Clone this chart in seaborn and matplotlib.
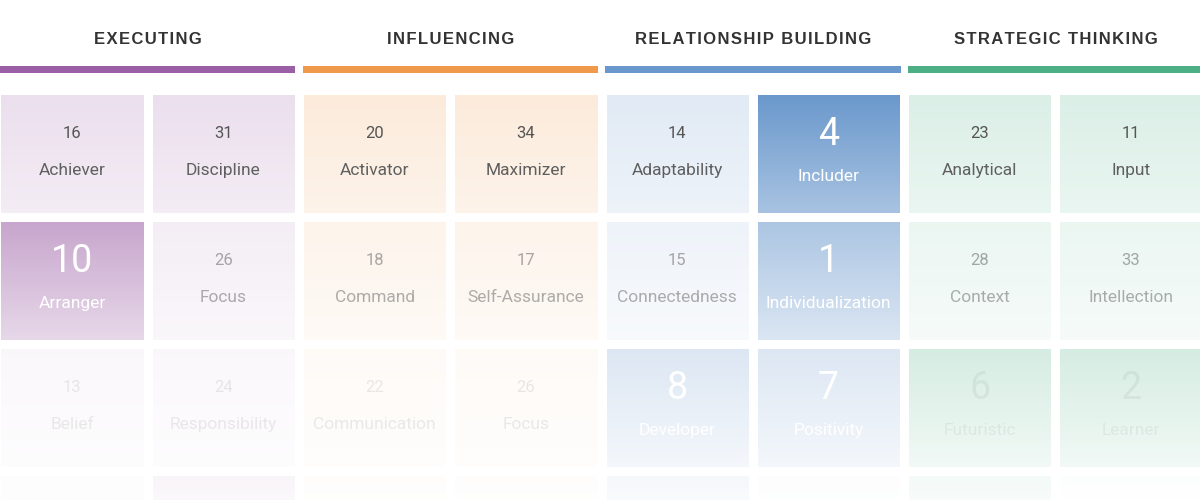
import numpy as np
import matplotlib
matplotlib.use('Agg')
import matplotlib.pyplot as plt
from matplotlib.colors import ListedColormap, to_rgb
from matplotlib.patches import Rectangle
import seaborn as sns

# domains and their colours
groups = ['EXECUTING', 'INFLUENCING', 'RELATIONSHIP BUILDING', 'STRATEGIC THINKING']
group_colors = ['#9b5fa5', '#f0994a', '#6a98cc', '#4caf85']

# tiles, one list per column (rows top to bottom); last row is faded out
names = [
    ['Achiever', 'Arranger', 'Belief', ''],
    ['Discipline', 'Focus', 'Responsibility', ''],
    ['Activator', 'Command', 'Communication', ''],
    ['Maximizer', 'Self-Assurance', 'Focus', ''],
    ['Adaptability', 'Connectedness', 'Developer', ''],
    ['Includer', 'Individualization', 'Positivity', ''],
    ['Analytical', 'Context', 'Futuristic', ''],
    ['Input', 'Intellection', 'Learner', ''],
]
ranks = [
    [16, 10, 13, None],
    [31, 26, 24, None],
    [20, 18, 22, None],
    [34, 17, 26, None],
    [14, 15, 8, None],
    [4, 1, 7, None],
    [23, 28, 6, None],
    [11, 33, 2, None],
]
# top-ten tiles (strong colour)
top_ten = [
    [0, 1, 0, 0],
    [0, 0, 0, 1],
    [0, 0, 0, 0],
    [0, 0, 0, 0],
    [0, 0, 1, 1],
    [1, 1, 1, 0],
    [0, 0, 1, 1],
    [0, 0, 1, 0],
]

ncol = len(names)
nrow = len(names[0])

# colour code per cell: 2*group + highlighted
codes = np.array([[2 * (c // 2) + top_ten[c][r] for c in range(ncol)] for r in range(nrow)])
palette = []
for col in group_colors:
    rgb = np.array(to_rgb(col))
    palette.append(tuple(1 - 0.2 * (1 - rgb)))
    palette.append(tuple(rgb))
cmap = ListedColormap(palette)

sns.set_style('white')
plt.rcParams['font.family'] = ['Roboto', 'DejaVu Sans']

W, H = 1200, 500
pitch_x, pitch_y, gap = 151.3, 127.0, 7.3
top_px = 94 - gap / 2
fig = plt.figure(figsize=(12, 5), dpi=100)
ax = fig.add_axes([-gap / 2 / W, 1 - (top_px + nrow * pitch_y) / H,
                   ncol * pitch_x / W, nrow * pitch_y / H])

sns.heatmap(codes, ax=ax, cmap=cmap, vmin=-0.5, vmax=len(palette) - 0.5, cbar=False,
            linewidths=gap * 72 / 100, linecolor='white',
            xticklabels=False, yticklabels=False)

# fade towards the bottom
yy = np.linspace(0, nrow, 600)
pix = top_px + pitch_y * yy
alpha = np.interp(pix, [94, 213, 340, 467, 500, 600], [0.0, 0.42, 0.76, 0.93, 0.965, 0.99])
fade = np.ones((len(yy), 1, 4))
fade[:, 0, 3] = alpha
ax.imshow(fade, extent=(0, ncol, nrow, 0), aspect='auto', origin='upper', zorder=3)
ax.set_xlim(0, ncol)
ax.set_ylim(nrow, 0)
ax.axis('off')

# headers and coloured bars
inset = gap / 2 / pitch_x
for g, (label, col) in enumerate(zip(groups, group_colors)):
    ax.add_patch(Rectangle((2 * g + inset, (66 - top_px) / pitch_y), 2 - 2 * inset, 7 / pitch_y,
                           facecolor=col, edgecolor='none', clip_on=False, zorder=4))
    ax.text(2 * g + 1, (39 - top_px) / pitch_y, '\u200a'.join(label), ha='center', va='center',
            fontsize=12, fontweight='bold', color='#333333',
            family=['Liberation Sans', 'DejaVu Sans'], clip_on=False, zorder=5)

text_fade = [0.0, 0.5, 0.88, 1.0]
hl_text = ['white', 'white', 'white', '#555555']
for c in range(ncol):
    g = c // 2
    for r in range(nrow):
        if not names[c][r]:
            continue
        a = 1 - text_fade[r]
        if top_ten[c][r]:
            tc = hl_text[g]
            ta = 1.0 if tc == 'white' else a * 0.7
            ax.text(c + 0.5, r + 0.35, str(ranks[c][r]), ha='center', va='center',
                    fontsize=27, color=tc, alpha=ta, zorder=5)
            ax.text(c + 0.5, r + 0.675, names[c][r], ha='center', va='center',
                    fontsize=12.5, color=tc, alpha=ta, zorder=5)
        else:
            ax.text(c + 0.5, r + 0.343, str(ranks[c][r]), ha='center', va='center',
                    fontsize=12, color='#555555', alpha=a, zorder=5)
            ax.text(c + 0.5, r + 0.632, names[c][r], ha='center', va='center',
                    fontsize=12.5, color='#5f5f5f', alpha=a, zorder=5)

fig.savefig('out.png', dpi=100)
